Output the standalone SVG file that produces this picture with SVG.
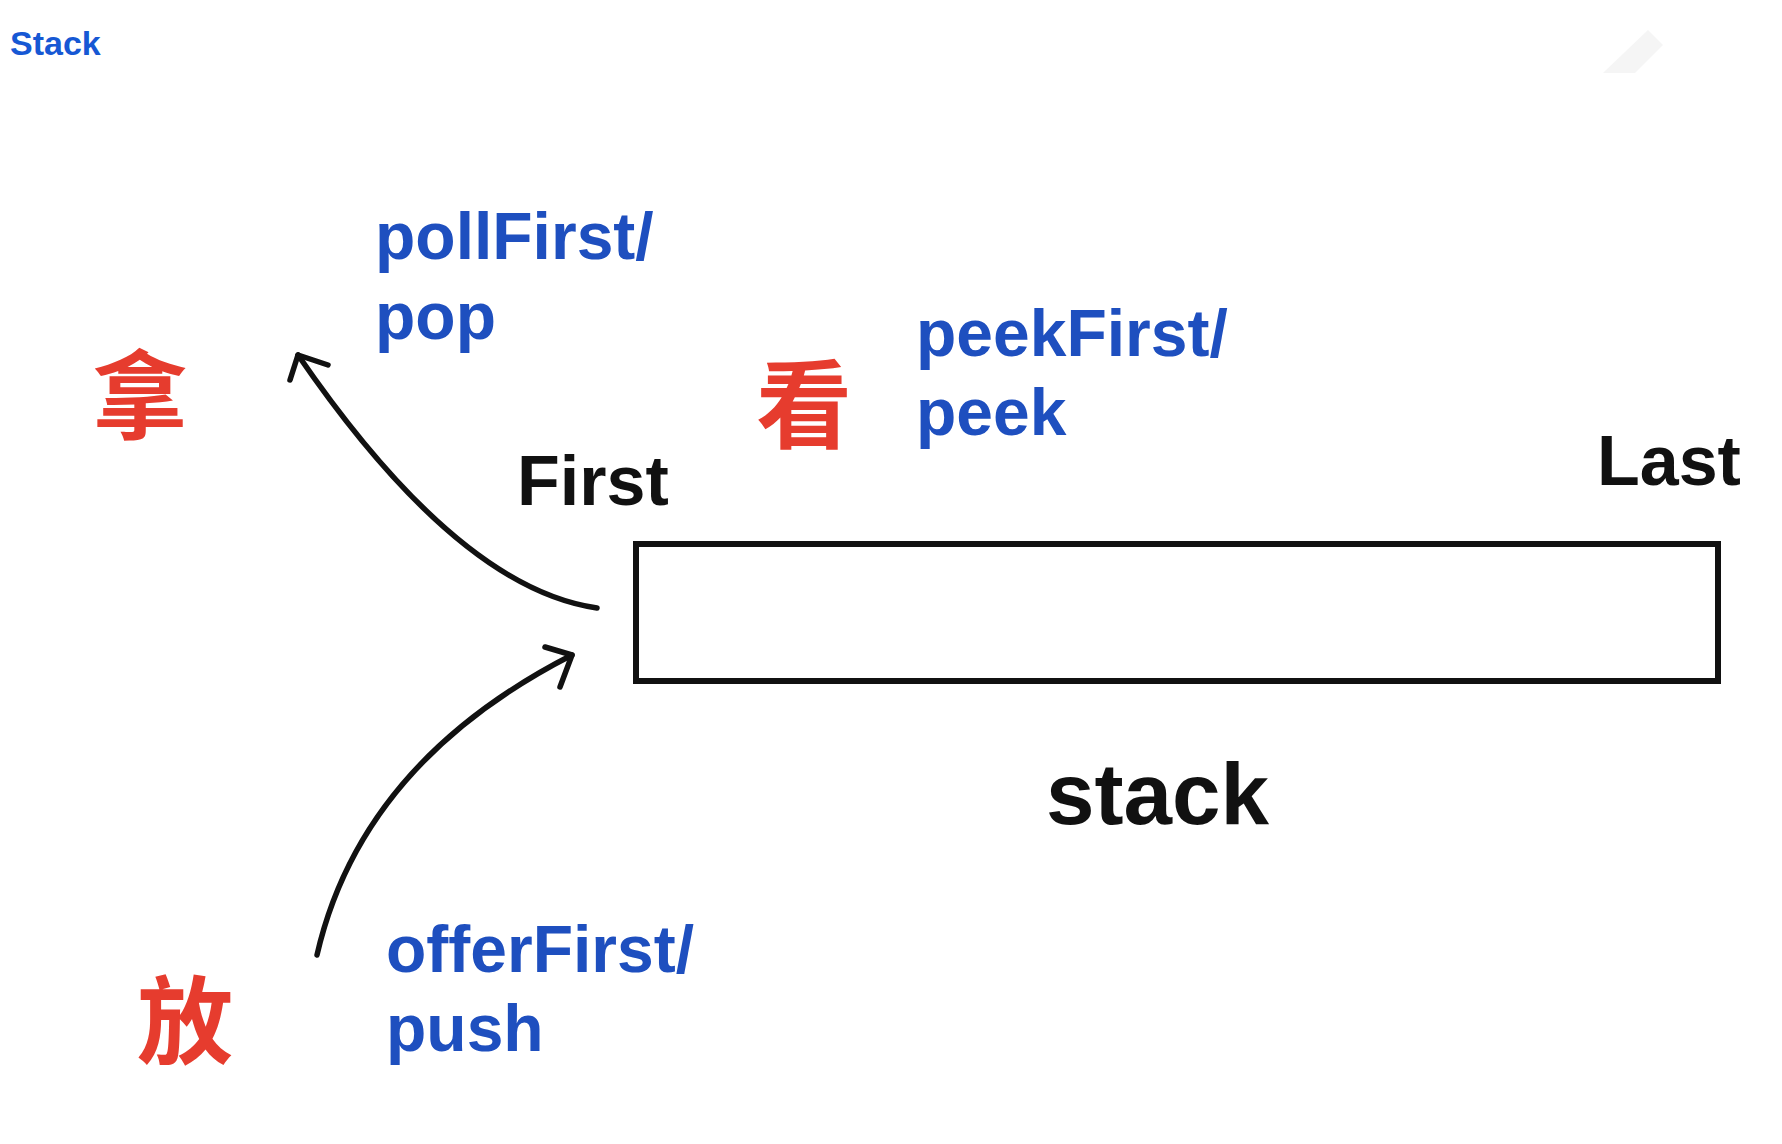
<svg xmlns="http://www.w3.org/2000/svg" width="1782" height="1144" viewBox="0 0 1782 1144">
<style>
  .title { font-family: "Liberation Sans", Arial, sans-serif; font-weight: bold; font-size: 34px; fill: #1658d4; }
  .op { font-family: "Liberation Sans", Arial, sans-serif; font-weight: bold; font-size: 66px; fill: #1e4fbf; }
  .lbl { font-family: "Liberation Sans", Arial, sans-serif; font-weight: bold; font-size: 70px; fill: #111; }
  .big { font-size: 88px; }
  .cjk { font-family: "Noto Sans CJK SC", "Noto Sans CJK JP", sans-serif; font-weight: bold; font-size: 96px; fill: #e63c2e; text-anchor: middle; }
  .conn { fill: none; stroke: #111; stroke-width: 5.5; stroke-linecap: round; stroke-linejoin: round; }
  .box { fill: #fff; stroke: #111; stroke-width: 6; }
</style>
<rect width="1782" height="1144" fill="#fff"/>
<polygon points="1603,73 1648,30 1663,45 1635,73" fill="#f5f5f5"/>
<text class="title" x="10" y="55">Stack</text>

<g id="stack-node">
  <rect class="box" x="636" y="544" width="1082" height="137"/>
  <text class="lbl big" x="1046" y="824" textLength="223" lengthAdjust="spacingAndGlyphs">stack</text>
</g>
<g id="first-label">
  <text class="lbl" x="517" y="505">First</text>
</g>
<g id="last-label">
  <text class="lbl" x="1597" y="485">Last</text>
</g>
<g id="take">
  <text class="cjk" x="140" y="431">拿</text>
  <text class="op" x="375"><tspan x="375" y="259">pollFirst/</tspan><tspan x="375" y="339">pop</tspan></text>
</g>
<g id="look">
  <text class="cjk" x="804" y="440">看</text>
  <text class="op" x="916"><tspan x="916" y="356">peekFirst/</tspan><tspan x="916" y="435">peek</tspan></text>
</g>
<g id="put">
  <text class="cjk" x="185" y="1056">放</text>
  <text class="op" x="386"><tspan x="386" y="972">offerFirst/</tspan><tspan x="386" y="1051">push</tspan></text>
</g>

<g id="connectors">
  <path class="conn" d="M597,608 Q458,588 298,355"/>
  <polyline class="conn" points="290,380 298,355 328,365"/>
  <path class="conn" d="M317,955 Q361,763 572,655"/>
  <polyline class="conn" points="545,647 572,655 560,687"/>
</g>
</svg>
